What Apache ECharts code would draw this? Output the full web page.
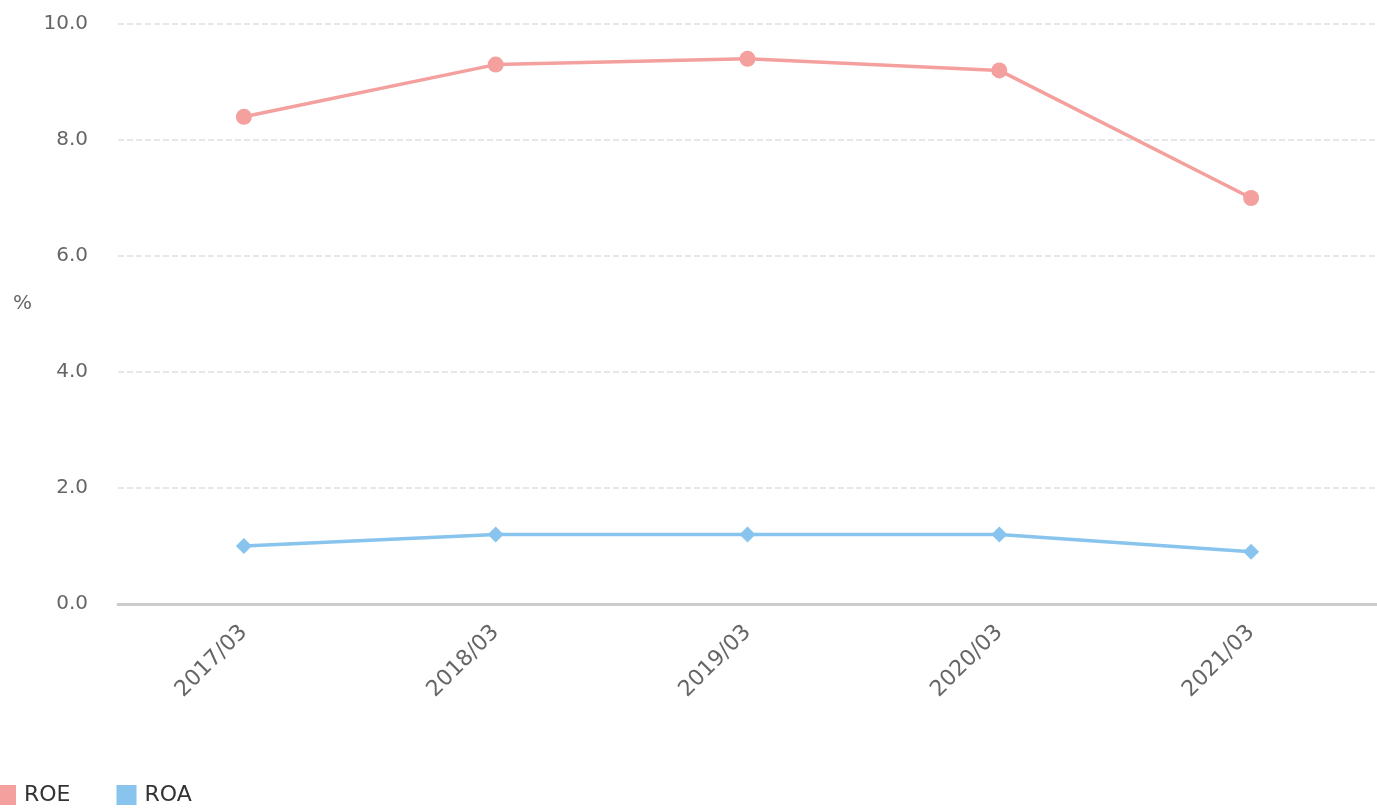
<!DOCTYPE html>
<html><head><meta charset="utf-8">
<script src="https://cdn.jsdelivr.net/npm/echarts@6/dist/echarts.min.js"></script>
<style>html,body{margin:0;padding:0;background:#fff;}#c{width:1377px;height:809px;}</style>
</head><body><div id="c"></div>
<script>
const categories = ['2017/03','2018/03','2019/03','2020/03','2021/03'];
const roe = [8.4, 9.3, 9.4, 9.2, 7.0];
const roa = [1.0, 1.2, 1.2, 1.2, 0.9];
const yTicks = {min: 0, max: 10, interval: 2};

const chart = echarts.init(document.getElementById('c'));
chart.setOption({
  animation: false,
  textStyle: {fontFamily: 'DejaVu Sans'},
  grid: {left: 118, width: 1265, top: 24, bottom: 205},
  legend: {
    left: -4, top: 784, padding: 0, itemWidth: 20, itemHeight: 20, itemGap: 46,
    textStyle: {fontSize: 22, color: '#333', fontFamily: 'DejaVu Sans', padding: [4, 0, 0, 3]},
    data: [{name: 'ROE', icon: 'rect'}, {name: 'ROA', icon: 'rect'}]
  },
  xAxis: {
    type: 'category', data: categories, boundaryGap: true,
    axisLine: {lineStyle: {color: '#cccccc', width: 3}},
    axisTick: {show: false},
    axisLabel: {rotate: 45, fontSize: 22, color: '#666', margin: 25}
  },
  yAxis: {
    type: 'value', min: yTicks.min, max: yTicks.max, interval: yTicks.interval,
    name: '%', nameLocation: 'middle', nameGap: 86, nameRotate: 0,
    nameTextStyle: {fontSize: 20, color: '#666', verticalAlign: 'bottom'},
    axisLine: {show: false}, axisTick: {show: false},
    axisLabel: {fontSize: 20, color: '#666', margin: 30, formatter: v => v.toFixed(1)},
    splitLine: {lineStyle: {type: 'dashed', color: '#e0e0e0', width: 1.5}}
  },
  series: [
    {name: 'ROE', type: 'line', data: roe, symbol: 'circle', symbolSize: 16,
     itemStyle: {color: '#f4a09e'}, lineStyle: {width: 3.5, color: '#f4a09e'}},
    {name: 'ROA', type: 'line', data: roa, symbol: 'diamond', symbolSize: 16,
     itemStyle: {color: '#88c4ee'}, lineStyle: {width: 3.5, color: '#88c4ee'}}
  ]
});
</script></body></html>
